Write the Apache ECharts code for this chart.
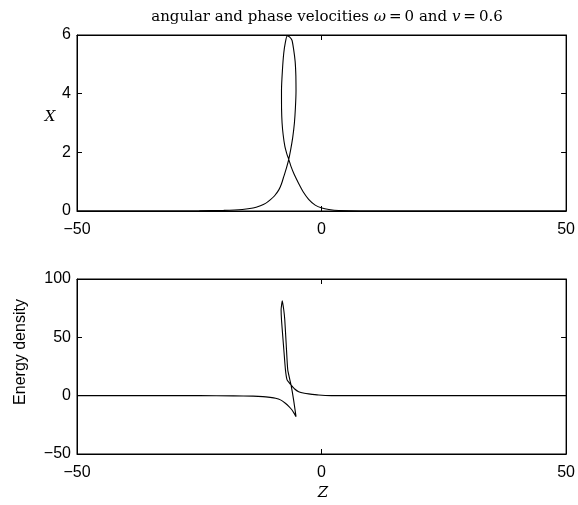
<!DOCTYPE html>
<html>
<head>
<meta charset="utf-8">
<script src="https://cdn.jsdelivr.net/npm/echarts@6/dist/echarts.min.js"></script>
<style>
  html, body { margin: 0; padding: 0; background: #fff; }
  #container { width: 578px; height: 505px; }
</style>
</head>
<body>
<div id="container"></div>
<script>
// top panel: X against Z (parametric path, loop near z = -7)
const topZ = [-50, -35, -25, -20, -16.2, -14, -12.5, -11.45, -10.5, -9.6, -8.74, -8.2, -7.73, -7.2, -6.71,
  -6.3, -5.9, -5.55, -5.35, -5.22, -5.25, -5.4, -5.7, -6.04, -6.5, -7.05, -7.4, -7.73, -8.0, -8.19,
  -8.18, -8.07, -7.85, -7.5, -7.1, -6.71, -6.25, -5.6, -4.68, -3.7, -2.64, -1.3, 0.07, 1.5, 3.5, 8, 50];
const topX = [0, 0, 0.005, 0.02, 0.05, 0.1, 0.18, 0.26, 0.38, 0.52, 0.72, 0.92, 1.17, 1.45, 1.76,
  2.1, 2.5, 3.0, 3.5, 4.1, 4.6, 5.1, 5.5, 5.82, 5.93, 5.97, 5.75, 5.38, 4.8, 4.12,
  3.5, 3.0, 2.6, 2.2, 1.95, 1.76, 1.52, 1.25, 0.94, 0.64, 0.4, 0.2, 0.1, 0.05, 0.015, 0, 0];

// bottom panel: energy density against Z
const botZ = [-50, -25, -18, -14, -12, -10.5, -9.4, -8.4, -7.4, -6.6, -6.04, -5.6, -5.22,
  -5.7, -6.24, -6.91, -7.22, -7.52, -7.73, -8.03,
  -8.27, -8.19, -7.79, -7.38, -7.05, -6.6, -6.24, -5.49, -4.68, -3.5, -2.64, -0.6, 2, 6, 50];
const botE = [0, 0, -0.2, -0.4, -0.8, -1.5, -2.2, -3.6, -6.5, -9.6, -12.3, -15.2, -18,
  -4, 9.2, 22.1, 43.5, 65, 73.6, 81.3,
  73.6, 65, 43.5, 22.1, 13.5, 11, 9.2, 5.7, 3.4, 2.0, 1.5, 0.6, 0.05, 0, 0];

const zTicks = [-50, 0, 50];
const xTicks = [0, 2, 4, 6];
const eTicks = [-50, 0, 50, 100];

const topData = topZ.map((z, i) => [z, topX[i]]);
const botData = botZ.map((z, i) => [z, botE[i]]);

const minus = v => String(v).replace('-', '\u2212');
const sans = 'Liberation Sans';
const serif = 'DejaVu Serif';

function axisCommon(labels, margin) {
  return {
    type: 'value',
    axisLine: { show: true, onZero: false, lineStyle: { color: '#000', width: 1 } },
    axisTick: { show: true, inside: true, length: 5, lineStyle: { color: '#000' } },
    axisLabel: labels ? { show: true, color: '#000', fontFamily: sans, fontSize: 16, margin: margin, formatter: minus } : { show: false },
    splitLine: { show: false }
  };
}

const chart = echarts.init(document.getElementById('container'), null, { renderer: 'canvas' });
chart.setOption({
  animation: false,
  backgroundColor: '#fff',
  title: {
    text: 'angular and phase velocities {i|ω}\u2009=\u20090 and {i|v}\u2009=\u20090.6',
    left: 322, top: 5, textAlign: 'center',
    textStyle: {
      fontFamily: serif, fontSize: 15, fontWeight: 'normal', color: '#000',
      rich: { i: { fontFamily: serif, fontStyle: 'italic', fontSize: 15, color: '#000' } }
    }
  },
  grid: [
    { left: 77, top: 35, width: 492, height: 176, show: true, borderColor: '#000', borderWidth: 1 },
    { left: 77, top: 279, width: 492, height: 175, show: true, borderColor: '#000', borderWidth: 1 }
  ],
  xAxis: [
    Object.assign(axisCommon(true, 11), { gridIndex: 0, position: 'bottom', min: zTicks[0], max: zTicks[2], interval: 50 }),
    Object.assign(axisCommon(false), { gridIndex: 0, position: 'top', min: zTicks[0], max: zTicks[2], interval: 50 }),
    Object.assign(axisCommon(true, 11), { gridIndex: 1, position: 'bottom', min: zTicks[0], max: zTicks[2], interval: 50 }),
    Object.assign(axisCommon(false), { gridIndex: 1, position: 'top', min: zTicks[0], max: zTicks[2], interval: 50 })
  ],
  yAxis: [
    Object.assign(axisCommon(true, 6), { gridIndex: 0, position: 'left', min: xTicks[0], max: xTicks[3], interval: 2 }),
    Object.assign(axisCommon(false), { gridIndex: 0, position: 'right', min: xTicks[0], max: xTicks[3], interval: 2 }),
    Object.assign(axisCommon(true, 6), { gridIndex: 1, position: 'left', min: eTicks[0], max: eTicks[3], interval: 50 }),
    Object.assign(axisCommon(false), { gridIndex: 1, position: 'right', min: eTicks[0], max: eTicks[3], interval: 50 })
  ],
  graphic: [
    { type: 'text', x: 50, y: 117, style: { text: 'X', fontFamily: serif, fontStyle: 'italic', fontSize: 15, fill: '#000', align: 'center', verticalAlign: 'middle' } },
    { type: 'text', x: 21, y: 352, rotation: Math.PI / 2, style: { text: 'Energy density', fontFamily: sans, fontSize: 16, fill: '#000', align: 'center', verticalAlign: 'middle' } },
    { type: 'text', x: 323, y: 493, style: { text: 'Z', fontFamily: serif, fontStyle: 'italic', fontSize: 15, fill: '#000', align: 'center', verticalAlign: 'middle' } }
  ],
  series: [
    { type: 'line', xAxisIndex: 0, yAxisIndex: 0, data: topData, showSymbol: false, smooth: 0.15, lineStyle: { color: '#000', width: 1.1 } },
    { type: 'line', xAxisIndex: 2, yAxisIndex: 2, data: botData, showSymbol: false, smooth: 0.15, lineStyle: { color: '#000', width: 1.1 } }
  ]
});
</script>
</body>
</html>
